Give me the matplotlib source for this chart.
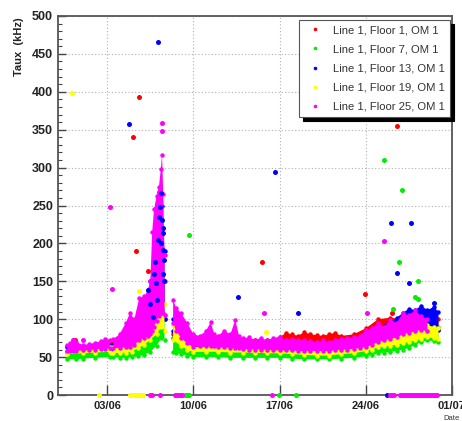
import numpy as np
import matplotlib
matplotlib.use('Agg')
import matplotlib.pyplot as plt
from matplotlib.lines import Line2D

plt.rcParams['font.family'] = ['Liberation Sans', 'DejaVu Sans']

NAN = np.nan

# time axis: days since 30/05 00:00
xtick_pos = [4, 11, 18, 25, 32]
xtick_labels = ['03/06', '10/06', '17/06', '24/06', '01/07']

series_names = ['Line 1, Floor 1, OM 1', 'Line 1, Floor 7, OM 1', 'Line 1, Floor 13, OM 1',
                'Line 1, Floor 19, OM 1', 'Line 1, Floor 25, OM 1']
series_colors = ['#ff0000', '#00ee00', '#0000ff', '#ffff00', '#ff00ff']

# ---- band data (low / high rate envelope, kHz) ----
red_t = [0.75, 1.4, 2.0, 4.2, 4.35, 4.5, 5.5, 6.5, 7.0, 7.5, 8.0, 8.4, 8.65, 9.0, 9.35, 10.0, 11.0, 14.0, 16.0, 17.0,
         18.0, 18.5, 19.0, 19.5, 20.0, 20.5, 21.0, 21.5, 22.0, 22.5, 23.0, 24.0, 25.0, 26.0, 27.0, 28.0, 29.0, 30.0, 30.9]
red_lo = [58, 60, 60, 62, NAN, 62, 64, 70, 72, 75, 90, 110, 100, NAN, 75, 68, 63, 62, 62, 62,
          63, 65, 66, 65, 66, 65, 64, 63, 63, 63, 63, 63, 66, 72, 78, 80, 84, 86, 86]
red_hi = [64, 70, 64, 68, NAN, 68, 75, 82, 100, 110, 130, 152, 150, NAN, 80, 75, 68, 68, 72, 73,
          76, 82, 80, 78, 83, 80, 79, 78, 80, 82, 78, 80, 88, 100, 102, 100, 98, 102, 100]

green_t = [0.75, 1.5, 2.0, 3.0, 4.2, 4.35, 4.5, 5.0, 5.5, 6.0, 6.5, 7.0, 7.5, 8.0, 8.4, 8.65, 9.0, 9.35, 9.6, 10.0,
           10.5, 11.0, 12.0, 13.0, 14.0, 15.0, 16.0, 17.0, 18.0, 19.0, 20.0, 21.0, 22.0, 23.0, 24.0, 25.0, 25.5,
           26.0, 26.5, 27.0, 27.5, 28.0, 28.5, 29.0, 29.5, 30.0, 30.5, 30.9]
green_lo = [47, 47, 48, 49, 50, NAN, 50, 49, 49, 50, 51, 53, 57, 65, 75, 73, NAN, 57, 56, 54,
            52, 50, 50, 50, 49, 49, 49, 49, 49, 48, 47, 47, 47, 48, 49, 51, 53,
            55, 56, 57, 58, 60, 62, 66, 70, 72, 71, 70]
green_hi = [55, 55, 56, 57, 58, NAN, 58, 58, 60, 62, 68, 75, 82, 95, 108, 105, NAN, 75, 70, 66,
            62, 57, 58, 58, 57, 57, 56, 56, 56, 55, 55, 54, 54, 55, 57, 60, 64,
            70, 74, 68, 76, 82, 78, 86, 92, 95, 92, 90]

blue_t = [0.75, 4.2, 4.35, 4.5, 5.5, 6.5, 7.0, 7.5, 7.9, 8.2, 8.45, 8.65, 9.0, 9.35, 10.0, 11.0, 14.0, 16.0, 18.0,
          22.0, 25.0, 26.0, 27.0, 27.5, 28.0, 28.5, 29.0, 29.5, 30.0, 30.5, 30.9]
blue_lo = [58, 60, NAN, 60, 63, 72, 78, 86, 95, 105, 110, 100, NAN, 85, 72, 62, 61, 60, 60,
           59, 63, 70, 76, 80, 84, 86, 87, 88, 88, 86, 86]
blue_hi = [63, 66, NAN, 66, 75, 95, 120, 150, 200, 268, 250, 190, NAN, 100, 82, 70, 68, 68, 66,
           66, 75, 90, 96, 102, 108, 114, 112, 118, 112, 116, 110]

yellow_t = [0.75, 2.0, 3.0, 4.2, 4.35, 4.5, 5.0, 5.5, 6.0, 6.5, 7.0, 7.5, 8.0, 8.4, 8.65, 9.0, 9.35, 10.0, 10.5,
            11.0, 12.0, 13.0, 14.0, 15.0, 16.0, 17.0, 18.0, 19.0, 20.0, 21.0, 22.0, 23.0, 24.0, 25.0, 25.5,
            26.0, 26.5, 27.0, 27.5, 28.0, 28.5, 29.0, 29.5, 30.0, 30.5, 30.9]
yellow_lo = [54, 55, 56, 57, NAN, 56, 55, 56, 57, 62, 66, 73, 80, 90, 85, NAN, 73, 64, 60,
             57, 57, 57, 56, 56, 56, 55, 55, 54, 53, 52, 52, 54, 55, 58, 60,
             63, 64, 65, 66, 68, 70, 72, 74, 76, 75, 74]
yellow_hi = [58, 60, 61, 63, NAN, 63, 63, 66, 70, 85, 95, 108, 120, 132, 120, NAN, 92, 78, 70,
             63, 64, 64, 63, 61, 61, 60, 60, 59, 59, 58, 57, 60, 62, 65, 70,
             76, 80, 78, 84, 86, 82, 90, 88, 92, 90, 88]

mag_t = [0.75, 1.0, 1.25, 1.5, 2.0, 2.5, 3.0, 3.5, 3.8, 4.2, 4.35, 4.5, 5.0, 5.5, 5.85, 6.2, 6.6, 7.0, 7.3, 7.5,
         7.65, 7.8, 8.0, 8.2, 8.35, 8.45, 8.55, 8.65, 9.0, 9.35, 9.6, 10.0, 10.5, 11.0, 11.5, 12.0, 12.4, 12.7,
         13.0, 13.5, 14.0, 14.4, 14.7, 15.0, 15.5, 16.0, 16.5, 17.0, 17.5, 18.0, 18.5, 19.0, 19.5, 20.0, 20.5,
         21.0, 21.5, 22.0, 22.5, 23.0, 23.5, 24.0, 24.5, 25.0, 25.5, 26.0, 26.5, 27.0, 27.5, 28.0, 28.5, 29.0,
         29.5, 30.0]
mag_lo = [58, 58, 58, 58, 59, 59, 60, 61, 61, 62, NAN, 62, 62, 63, 63, 66, 72, 75, 78, 80,
          85, 90, 98, 104, 108, 110, 108, 105, NAN, 95, 85, 75, 68, 63, 64, 64, 65, 64,
          63, 63, 62, 62, 62, 61, 60, 60, 60, 60, 59, 59, 59, 59, 58, 58, 58,
          58, 58, 58, 59, 60, 60, 61, 62, 63, 66, 70, 72, 74, 76, 80, 82, 84,
          86, 84]
mag_hi = [66, 68, 72, 70, 66, 67, 69, 71, 74, 73, NAN, 74, 80, 95, 108, 100, 128, 130, 138, 150,
          215, 245, 262, 275, 298, 317, 265, 185, NAN, 125, 115, 108, 95, 80, 78, 84, 96, 80,
          78, 85, 80, 99, 78, 75, 76, 73, 75, 72, 75, 77, 72, 74, 73, 72, 71,
          70, 72, 70, 73, 74, 75, 76, 78, 86, 88, 95, 90, 99, 95, 108, 105, 112,
          104, 100]

# ---- isolated points ----
red_out_t = [1.4, 6.58, 6.1, 6.34, 7.3, 16.6, 24.9, 27.5, 27.1]
red_out_v = [72, 393, 340, 190, 164, 175, 133, 355, 108]
green_out_t = [10.64, 26.5, 27.9, 27.7, 29.2, 29.0, 29.25, 27.2]
green_out_v = [211, 310, 270, 175, 150, 129, 127, 113]
blue_out_t = [8.1, 5.77, 14.6, 17.6, 19.5, 27.05, 28.7, 27.5, 28.5, 30.5,
              8.34, 8.29, 8.45, 8.5, 8.55, 8.4, 8.5, 8.6, 7.95, 8.05, 7.3, 7.5, 7.7, 8.55, 8.6, 8.2,
              7.9, 8.1, 7.8]
blue_out_v = [466, 357, 129, 294, 108, 227, 227, 161, 148, 121,
              266, 248, 231, 220, 214, 200, 191, 178, 148, 125, 138, 120, 103, 160, 150, 235,
              175, 205, 160]
yellow_out_t = [1.14, 6.6, 8.0, 16.9]
yellow_out_v = [398, 137, 232, 83]
mag_out_t = [8.45, 8.45, 4.21, 4.4, 16.7, 25.1, 26.5, 1.2, 2.0]
mag_out_v = [359, 348, 248, 140, 108, 108, 203, 73, 73]

# ---- points at zero rate ----
red_zero_t = [10.5]
green_zero_t = [10.3, 10.45, 10.6, 17.95, 19.3]
blue_zero_t = [26.7]
yellow_zero_t = [3.33, 5.85, 6.0, 6.15, 6.3, 6.45, 6.6, 6.75, 6.9]
mag_zero_t = [7.5, 7.65, 8.3, 9.5, 9.65, 9.8, 9.95, 10.1, 17.4, 27.0, 27.15, 27.3, 27.8, 27.95, 28.1, 28.25,
              28.4, 28.55, 28.7, 28.85, 29.0, 29.15, 29.3, 29.45, 29.6, 29.75, 29.9, 30.05, 30.2, 30.35,
              30.5, 30.65, 30.8]

bands = [(red_t, red_lo, red_hi), (green_t, green_lo, green_hi), (blue_t, blue_lo, blue_hi),
         (yellow_t, yellow_lo, yellow_hi), (mag_t, mag_lo, mag_hi)]
outs = [(red_out_t, red_out_v), (green_out_t, green_out_v), (blue_out_t, blue_out_v),
        (yellow_out_t, yellow_out_v), (mag_out_t, mag_out_v)]
zeros = [red_zero_t, green_zero_t, blue_zero_t, yellow_zero_t, mag_zero_t]

fig = plt.figure(figsize=(4.62, 4.21), dpi=100)
ax = fig.add_axes([58 / 462, 1 - 395 / 421, (452 - 58) / 462, (395 - 16) / 421])

ms = 3.2
for i, (t, lo, hi) in enumerate(bands):
    c = series_colors[i]
    t = np.asarray(t, float); lo = np.asarray(lo, float); hi = np.asarray(hi, float)
    ax.fill_between(t, lo, hi, color=c, lw=0, zorder=2 + i)
    ax.plot(t, hi, 'o', color=c, ms=ms, mew=0, zorder=2 + i)
    ax.plot(t, lo, 'o', color=c, ms=ms, mew=0, zorder=2 + i)

for i, (t, v) in enumerate(outs):
    z = 2 + i if i != 2 else 8
    ax.plot(t, v, 'o', color=series_colors[i], ms=ms + 0.4, mew=0, zorder=z)

for i, t in enumerate(zeros):
    ax.plot(t, np.zeros(len(t)), 'o', color=series_colors[i], ms=ms + 0.4, mew=0, zorder=10, clip_on=False)

ax.set_xlim(0, 32)
ax.set_ylim(0, 500)
ax.set_xticks(xtick_pos)
ax.set_xticklabels(xtick_labels)
ax.set_yticks(np.arange(0, 501, 50))
ax.set_yticks(np.arange(0, 501, 10), minor=True)
ax.grid(True, which='major', color='#b0b0b0', lw=0.8, ls=(0, (1, 2)), zorder=1)
ax.set_axisbelow(True)
ax.tick_params(axis='y', which='major', direction='in', length=6, width=1.0, color='#444444',
               labelsize=9, pad=3.5)
ax.tick_params(axis='y', which='minor', direction='in', length=3, width=0.8, color='#444444')
ax.tick_params(axis='x', which='major', direction='in', length=7, width=1.0, color='#444444',
               labelsize=8, pad=4)
for lab in ax.get_xticklabels() + ax.get_yticklabels():
    lab.set_fontweight('bold')
    lab.set_color('#222222')
for s in ax.spines.values():
    s.set_color('#555555')
    s.set_linewidth(1.3)

fig.text(19 / 462, 1 - 17 / 421, 'Taux  (kHz)', rotation=90, ha='center', va='top',
         fontsize=8, fontweight='bold', color='#222222')
fig.text(451 / 462, 1 - 418 / 421, 'Date', ha='center', va='center', fontsize=5.5, color='#333333')

handles = [Line2D([], [], marker='o', ls='', color=c, ms=2.6, mew=0) for c in series_colors]
leg = fig.legend(handles, series_names, loc='upper right', bbox_to_anchor=(450 / 462, 1 - 20 / 421),
                 bbox_transform=fig.transFigure, borderaxespad=0, fontsize=8.1, frameon=True,
                 fancybox=False, framealpha=1, edgecolor='#555555', facecolor='white',
                 handlelength=2.0, handletextpad=0.6, borderpad=0.45, labelspacing=0.82,
                 shadow={'ox': 3, 'oy': -3, 'shade': 1.0, 'alpha': 1.0})
leg.get_frame().set_linewidth(0.8)
for txt in leg.get_texts():
    txt.set_color('#333333')

fig.savefig('out.png', dpi=100)
